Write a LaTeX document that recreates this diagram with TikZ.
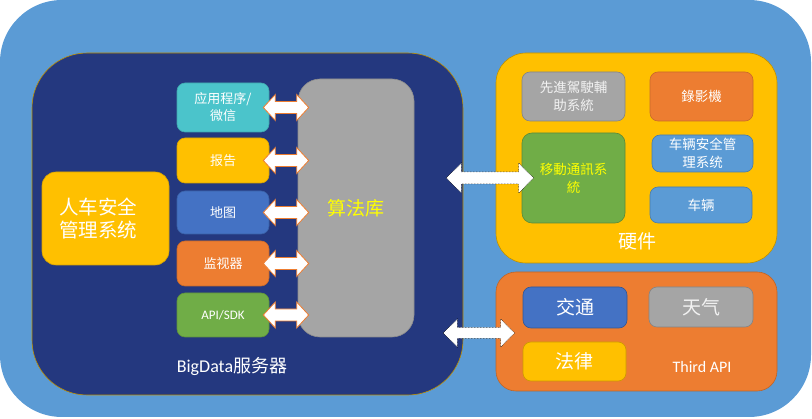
\documentclass[tikz,border=0pt]{standalone}
\usepackage{fontspec}
\setmainfont{Carlito}
\newfontfamily\cjk{Noto Sans CJK SC}
\usetikzlibrary{calc}
\definecolor{outerblue}{HTML}{5B9BD5}
\definecolor{navy}{HTML}{24387F}
\definecolor{gold}{HTML}{BF9000}
\definecolor{myyellow}{HTML}{FFC000}
\definecolor{myteal}{HTML}{4BC4CB}
\definecolor{myblue}{HTML}{4472C4}
\definecolor{myorange}{HTML}{ED7D31}
\definecolor{mygreen}{HTML}{70AD47}
\definecolor{mygray}{HTML}{A5A5A5}
\definecolor{lightblue}{HTML}{5B9BD5}
\definecolor{textyellow}{HTML}{FFFF00}
\newcommand\fatarrow[6]{%
  \draw[#1] let \p1=#2, \p2=#3 in
    (\x1,\y1) -- (\x1+#4,\y1+#5) -- (\x1+#4,\y1+#6) -- (\x2-#4,\y1+#6)
    -- (\x2-#4,\y1+#5) -- (\x2,\y1) -- (\x2-#4,\y1-#5) -- (\x2-#4,\y1-#6)
    -- (\x1+#4,\y1-#6) -- (\x1+#4,\y1-#5) -- cycle;}
\begin{document}
\begin{tikzpicture}[x=1pt,y=-1pt,
  box/.style={rectangle,rounded corners=8pt,inner sep=0pt,line width=0.6pt,
    text=white,align=center},
  small/.style={box,minimum width=92pt,font=\cjk\fontsize{13}{17}\selectfont},
  hwbox/.style={box,font=\cjk\fontsize{13.5}{18}\selectfont},
  apibox/.style={box,font=\cjk\fontsize{19}{22}\selectfont},
  label/.style={text=white,inner sep=0pt},
  smallarrow/.style={fill=white,draw=myorange,line width=0.8pt,line join=miter},
  bigarrow/.style={fill=white,draw=black,line width=0.5pt,densely dotted,line join=miter},
]
\useasboundingbox (0,0) rectangle (812,419);
% outer background
\fill[outerblue,rounded corners=62pt] (0,0) rectangle (811,417);

% BigData server
\node[box,rounded corners=55pt,fill=navy,draw=gold,minimum width=431pt,minimum height=342pt] (navy) at (247.5,224) {};
\node[box,rounded corners=14pt,fill=myyellow,draw=myyellow!85!black,minimum width=127pt,minimum height=93pt,
  font=\cjk\fontsize{19.5}{23}\selectfont,align=left] (ren) at (105.5,218.5) {\hspace*{-14pt}人车安全\\\hspace*{-14pt}管理系统};
\node[small,fill=myteal,draw=myteal!85!black,minimum height=49pt] (app) at (223,107.5) {应用程序/\\微信};
\node[small,fill=myyellow,draw=myyellow!85!black,minimum height=45pt] (report) at (223,160.5) {报告};
\node[small,fill=myblue,draw=myblue!85!black,minimum height=43pt] (map) at (223,212.5) {地图};
\node[small,fill=myorange,draw=myorange!85!black,minimum height=45pt] (monitor) at (223,263.5) {监视器};
\node[small,fill=mygreen,draw=mygreen!85!black,minimum height=44pt,font=\fontsize{13}{16}\selectfont] (api) at (223,315) {API/SDK};
\node[box,rounded corners=22pt,fill=mygray,draw=mygray!85!black,minimum width=116pt,minimum height=258pt,
  text=textyellow,font=\cjk\fontsize{19}{22}\selectfont] (algo) at (356,208) {算法库};
\node[label,font=\fontsize{18}{20}\selectfont] (bdlabel) at (232,366) {BigData{\cjk 服务器}};

\foreach \b in {app,report,map,monitor,api}{
  \fatarrow{smallarrow}{($(\b.east)+(-6,0)$)}{($(\b.east-|algo.west)+(11,0)$)}{12pt}{13pt}{6pt}
}

% hardware
\node[box,rounded corners=30pt,fill=myyellow,draw=gold,minimum width=281pt,minimum height=210pt] (hw) at (636.5,158) {};
\node[hwbox,fill=mygray,draw=mygray!80!black,minimum width=103pt,minimum height=49pt,text=white!95!black] (adas) at (573.5,96.5) {先進駕駛輔\\助系統};
\node[hwbox,fill=myorange,draw=myorange!85!black,minimum width=103pt,minimum height=49pt] (rec) at (701.5,96.5) {錄影機};
\node[hwbox,rounded corners=10pt,fill=mygreen,draw=mygreen!80!black,minimum width=103pt,minimum height=90pt,text=textyellow] (mobile) at (573.5,178) {移動通訊系\\統};
\node[hwbox,fill=lightblue,draw=lightblue!80!black,minimum width=101pt,minimum height=37pt] (vsms) at (702.5,153.5) {车辆安全管\\理系统};
\node[hwbox,fill=lightblue,draw=lightblue!80!black,minimum width=102pt,minimum height=36pt] (veh) at (701,205) {车辆};
\node[label,font=\cjk\fontsize{19}{22}\selectfont] (hwlabel) at (637,241) {硬件};

% third API
\node[box,rounded corners=20pt,fill=myorange,draw=myorange!80!black,minimum width=281pt,minimum height=119pt] (third) at (636.5,331.5) {};
\node[apibox,fill=myblue,draw=myblue!75!black,minimum width=104pt,minimum height=41pt] (traffic) at (575,307.5) {交通};
\node[apibox,fill=mygray,draw=mygray!80!black,minimum width=104pt,minimum height=40pt,text=white!95!black] (weather) at (701,307) {天气};
\node[apibox,fill=myyellow,draw=myyellow!80!black,minimum width=103pt,minimum height=39pt] (law) at (574.5,361.5) {法律};
\node[label,font=\fontsize{16}{18}\selectfont] (thirdlabel) at (702,367) {Third API};

% connectors between groups
\fatarrow{bigarrow}{($(navy.east|-mobile.west)+(-17,0)$)}{($(mobile.west)+(12,0)$)}{15pt}{15pt}{6pt}
\fatarrow{bigarrow}{($(navy.east|-third.west)+(-20,1.5)$)}{($(third.west)+(19,0)$)}{14pt}{14pt}{5.5pt}
\end{tikzpicture}
\end{document}
